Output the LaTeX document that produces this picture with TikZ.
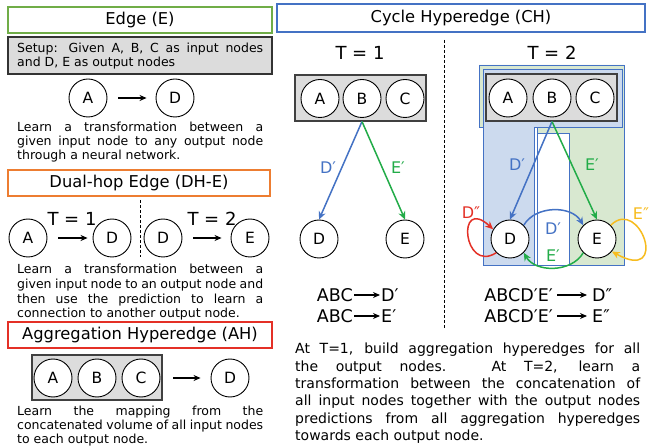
\documentclass[tikz,border=0pt]{standalone}
\usepackage{fontspec}
\setmainfont{DejaVu Sans}
\newfontfamily\bodyf{DejaVu Sans}
\newfontfamily\titlef{DejaVu Sans}
\usetikzlibrary{arrows.meta}
\newcommand{\jline}[2]{\makebox[#1][s]{\spaceskip=0.318em plus 3em minus 0.1em #2}}
\definecolor{egreen}{RGB}{112,173,71}
\definecolor{dorange}{RGB}{237,125,49}
\definecolor{ared}{RGB}{228,48,38}
\definecolor{cblue}{RGB}{68,114,196}
\definecolor{agreen}{RGB}{34,172,72}
\definecolor{ayellow}{RGB}{247,188,30}
\definecolor{lblue}{RGB}{204,218,238}
\definecolor{lgreen}{RGB}{216,232,208}
\definecolor{gfill}{RGB}{220,220,220}
\begin{document}
\begin{tikzpicture}[x=1pt,y=-1pt,
  circ/.style={circle, draw=black, line width=0.9pt, fill=white, minimum size=38pt, inner sep=0pt, font=\fontsize{15.5}{16}\selectfont},
  ttlbox/.style={draw, line width=1.4pt, fill=white, inner sep=0pt, font=\titlef\fontsize{16.3}{18}\selectfont},
  graybox/.style={draw=black!75, line width=1.1pt, fill=gfill, inner sep=0pt},
  body/.style={anchor=base west, inner sep=0pt, font=\bodyf\fontsize{12.5}{14}\selectfont},
  bodyr/.style={body, font=\bodyf\fontsize{14}{17}\selectfont},
  tlab/.style={font=\fontsize{18}{20}\selectfont, inner sep=0pt},
  eq/.style={font=\fontsize{17.5}{20}\selectfont, inner sep=1pt, text height=12.5pt, text depth=0pt},
  blk/.style={-{Stealth[length=7pt,width=6pt]}, line width=1.2pt},
  carr/.style={-{Stealth[length=8pt,width=7pt]}, line width=1.5pt},
  lab/.style={font=\fontsize{16}{18}\selectfont, inner sep=0pt},
  region/.style={draw=cblue, line width=0.8pt}
]
\useasboundingbox[fill=white] (0,0) rectangle (659,446);

% ---------------- Edge (E)
\node[ttlbox, draw=egreen, minimum width=264pt, minimum height=26pt] (te) at (140,20) {Edge (E)};
\node[graybox, draw=black!80, line width=1.4pt, minimum width=264pt, minimum height=37pt] (setup) at (140,55.5) {};
\node[body] (s1) at (17,53) {\jline{246pt}{Setup: Given A, B, C as input nodes}};
\node[body] (s2) at (17,67) {and D, E as output nodes};
\node[circ] (eA) at (88,98) {A};
\node[circ] (eD) at (175,98) {D};
\draw[blk, shorten <=11pt, shorten >=9pt] (eA) -- (eD);
\node[body] (e1) at (17,131.5) {\jline{246pt}{Learn a transformation between a}};
\node[body] (e2) at (17,145.7) {\jline{246pt}{given input node to any output node}};
\node[body] (e3) at (17,160) {through a neural network.};

% ---------------- Dual-hop Edge
\node[ttlbox, draw=dorange, minimum width=262pt, minimum height=26pt] (td) at (139,183) {Dual-hop Edge (DH-E)};
\coordinate (dt) at (140,200);
\coordinate (db) at (140,257);
\draw[dash pattern=on 3pt off 2pt, line width=0.8pt] (dt) -- (db);
\node[circ] (dA) at (28,238) {A};
\node[circ] (dD1) at (112,238) {D};
\node[circ] (dD2) at (163,238) {D};
\node[circ] (dE) at (250,238) {E};
\draw[blk, shorten <=11pt, shorten >=5pt] (dA) -- (dD1);
\draw[blk, shorten <=11pt, shorten >=9pt] (dD2) -- (dE);
\node[tlab] (dt1) at (72,219) {T = 1};
\node[tlab] (dt2) at (212,219) {T = 2};
\node[body] (d1) at (17,274) {\jline{246pt}{Learn a transformation between a}};
\node[body] (d2) at (17,288.7) {\jline{246pt}{given input node to an output node and}};
\node[body] (d3) at (17,303.3) {\jline{246pt}{then use the prediction to learn a}};
\node[body] (d4) at (17,318) {connection to another output node.};

% ---------------- Aggregation Hyperedge
\node[ttlbox, draw=ared, minimum width=264pt, minimum height=26pt] (ta) at (140,335) {Aggregation Hyperedge (AH)};
\node[graybox, minimum width=130pt, minimum height=45pt] (ag) at (97,377.5) {};
\node[circ] (aA) at (53,378) {A};
\node[circ] (aB) at (97,378) {B};
\node[circ] (aC) at (141,378) {C};
\node[circ] (aD) at (230,378) {D};
\draw[blk, shorten <=13pt, shorten >=10pt] (aC) -- (aD);
\node[body] (a1) at (17,415) {\jline{246pt}{Learn the mapping from the}};
\node[body] (a2) at (17,429.3) {\jline{246pt}{concatenated volume of all input nodes}};
\node[body] (a3) at (17,443.3) {to each output node.};

% ---------------- Cycle Hyperedge
\node[ttlbox, draw=cblue, minimum width=368pt, minimum height=28pt] (tc) at (461,18) {Cycle Hyperedge (CH)};
\coordinate (vt) at (444,40);
\coordinate (vb) at (444,328);
\draw[dash pattern=on 3pt off 2pt, line width=0.8pt] (vt) -- (vb);

% T = 1
\node[tlab] (t1) at (360,53) {T = 1};
\node[graybox, minimum width=131pt, minimum height=46pt] (g1) at (360.5,98) {};
\node[circ] (cA1) at (320,98.5) {A};
\node[circ] (cB1) at (362,98.5) {B};
\node[circ] (cC1) at (405,98.5) {C};
\node[circ] (cD1) at (319,239) {D};
\node[circ] (cE1) at (405,239) {E};
\draw[carr, cblue] (g1.south -| cB1) -- (cD1.north);
\draw[carr, agreen] (g1.south -| cB1) -- (cE1.north);
\node[lab, text=cblue] (l1) at (328,168) {D′};
\node[lab, text=agreen] (l2) at (398,168) {E′};
\node[eq, anchor=east] (q1) at (354,295) {ABC};
\node[eq, anchor=west] (r1) at (380,295) {D′};
\draw[blk] (q1) -- (r1);
\node[eq, anchor=east] (q2) at (354,316) {ABC};
\node[eq, anchor=west] (r2) at (380,316) {E′};
\draw[blk] (q2) -- (r2);

% T = 2
\node[tlab] (t2) at (552,53) {T = 2};
\draw[region, fill=lgreen] (479,65) -- (624,65) -- (624,265) -- (537,265) -- (537,127) -- (479,127) -- cycle;
\draw[region, fill=lblue] (483,69) -- (622,69) -- (622,127) -- (534,127) -- (534,265) -- (483,265) -- cycle;
\draw[region, fill=white] (537,133) rectangle (569,265);
\node[graybox, minimum width=131pt, minimum height=47pt] (g2) at (551.5,97.5) {};
\node[circ] (cA2) at (508,98) {A};
\node[circ] (cB2) at (552,98) {B};
\node[circ] (cC2) at (595,98) {C};
\node[circ] (cD2) at (510,239) {D};
\node[circ] (cE2) at (597,239) {E};
\draw[carr, cblue] (g2.south -| cB2) -- (cD2.north);
\draw[carr, agreen] (g2.south -| cB2) -- (cE2.north);
\node[lab, text=cblue] (l3) at (517,165) {D′};
\node[lab, text=agreen] (l4) at (592,165) {E′};
\draw[carr, cblue] (cD2.45) to[out=60, in=120] (cE2.135);
\draw[carr, agreen] (cE2.225) to[out=-120, in=-60] (cD2.-45);
\draw[carr, ared] (cD2.225) .. controls (463,274) and (456,195) .. (cD2.150);
\draw[carr, ayellow] (cE2.45) .. controls (640,196) and (670,284) .. (cE2.-40);
\node[lab, text=cblue] (l5) at (553,229) {D′};
\node[lab, text=agreen] (l6) at (553,256) {E′};
\node[lab, text=ared] (l7) at (471,213) {D″};
\node[lab, text=ayellow] (l8) at (641,214) {E″};
\node[eq, anchor=east] (q3) at (554,295) {ABCD′E′};
\node[eq, anchor=west] (r3) at (591,295) {D″};
\draw[blk, shorten <=3pt, shorten >=4pt] (q3) -- (r3);
\node[eq, anchor=east] (q4) at (554,316) {ABCD′E′};
\node[eq, anchor=west] (r4) at (591,316) {E″};
\draw[blk, shorten <=3pt, shorten >=4pt] (q4) -- (r4);

% bottom text
\node[bodyr] (b1) at (295,354) {\jline{345pt}{At T=1, build aggregation hyperedges for all}};
\node[bodyr] (b2) at (295,371.3) {\jline{345pt}{the output nodes. At T=2, learn a}};
\node[bodyr] (b3) at (295,388.7) {\jline{345pt}{transformation between the concatenation of}};
\node[bodyr] (b4) at (295,406) {\jline{345pt}{all input nodes together with the output nodes}};
\node[bodyr] (b5) at (295,423.3) {\jline{345pt}{predictions from all aggregation hyperedges}};
\node[bodyr] (b6) at (295,440.7) {towards each output node.};
\end{tikzpicture}
\end{document}
